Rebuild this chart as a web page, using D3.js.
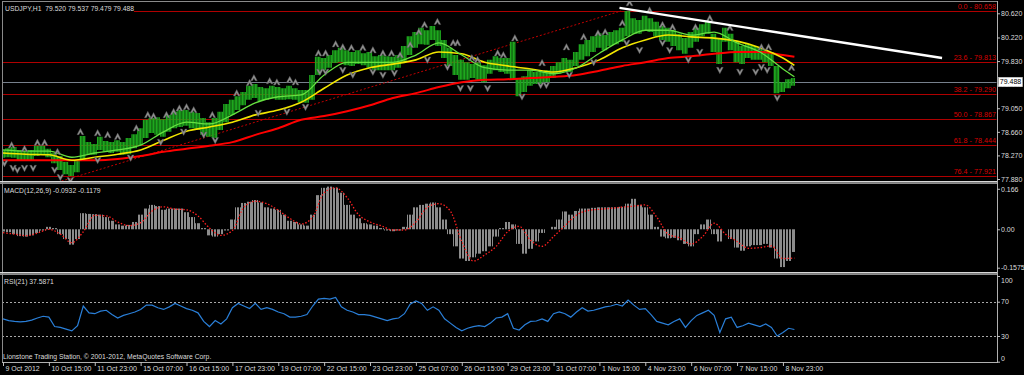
<!DOCTYPE html>
<html>
<head>
<meta charset="utf-8">
<script src="https://cdn.jsdelivr.net/npm/d3@7"></script>
<style>
  body { margin: 0; background: #000; }
  svg { display: block; }
</style>
</head>
<body>
<svg id="chart" width="1024" height="375"></svg>
<script>
// ---- data ----
const symbolTitle = "USDJPY,H1  79.520 79.537 79.479 79.488";
const lastPrice = 79.488;
const lastBar = 552;

// bottom axis: one label every 32 hourly bars
const timeBars = [0, 32, 64, 96, 128, 160, 192, 224, 256, 288, 320, 352, 384, 416, 448, 480, 512, 544];
const timeLabels = ["9 Oct 2012", "10 Oct 15:00", "11 Oct 23:00", "15 Oct 07:00", "16 Oct 15:00",
  "17 Oct 23:00", "19 Oct 07:00", "22 Oct 15:00", "23 Oct 23:00", "25 Oct 07:00", "26 Oct 15:00",
  "29 Oct 23:00", "31 Oct 07:00", "1 Nov 15:00", "4 Nov 23:00", "6 Nov 07:00", "7 Nov 15:00", "8 Nov 23:00"];

// price range of each 4-bar block
const priceHigh = [78.36, 78.39, 78.41, 78.36, 78.34, 78.36, 78.43, 78.43, 78.38, 78.31,
  78.26, 78.16, 78.11, 78.19, 78.59, 78.49, 78.46, 78.58, 78.51, 78.49,
  78.52, 78.49, 78.56, 78.62, 78.72, 78.86, 78.89, 78.90, 78.87, 78.94,
  78.99, 79.02, 79.02, 78.99, 78.97, 78.89, 78.82, 78.89, 78.99, 79.12,
  79.19, 79.25, 79.32, 79.42, 79.45, 79.40, 79.38, 79.42, 79.40, 79.38,
  79.42, 79.38, 79.35, 79.35, 79.60, 79.90, 79.88, 79.93, 80.01, 80.05,
  80.01, 79.98, 80.01, 79.96, 79.98, 79.91, 79.93, 79.91, 79.90, 79.93,
  80.08, 80.24, 80.31, 80.38, 80.34, 80.41, 80.34, 80.18, 80.05, 79.93,
  79.85, 79.81, 79.78, 79.81, 79.76, 79.85, 79.91, 79.88, 79.88, 80.15,
  79.55, 79.58, 79.68, 79.65, 79.65, 79.68, 79.75, 79.81, 79.88, 79.85,
  79.98, 80.11, 80.18, 80.24, 80.29, 80.26, 80.31, 80.34, 80.38, 80.66,
  80.54, 80.51, 80.58, 80.54, 80.48, 80.41, 80.38, 80.34, 80.28, 80.21,
  80.31, 80.38, 80.44, 80.48, 80.28, 80.21, 80.38, 80.28, 80.15, 80.08,
  80.11, 80.08, 80.05, 80.01, 79.98, 79.75, 79.48, 79.53, 79.55];
const priceLow = [78.23, 78.24, 78.23, 78.18, 78.19, 78.18, 78.26, 78.28, 78.24, 78.14,
  78.03, 77.96, 77.93, 77.99, 78.19, 78.29, 78.28, 78.36, 78.33, 78.31,
  78.33, 78.28, 78.29, 78.39, 78.44, 78.56, 78.64, 78.61, 78.58, 78.66,
  78.72, 78.74, 78.76, 78.72, 78.69, 78.61, 78.58, 78.56, 78.69, 78.82,
  78.94, 79.02, 79.10, 79.19, 79.22, 79.17, 79.19, 79.22, 79.19, 79.19,
  79.20, 79.19, 79.15, 79.14, 79.19, 79.60, 79.68, 79.72, 79.80, 79.81,
  79.76, 79.75, 79.78, 79.76, 79.72, 79.68, 79.68, 79.68, 79.68, 79.72,
  79.81, 79.93, 80.05, 80.11, 80.10, 80.18, 80.08, 79.88, 79.75, 79.60,
  79.52, 79.52, 79.55, 79.52, 79.48, 79.62, 79.68, 79.65, 79.62, 79.52,
  79.25, 79.32, 79.42, 79.45, 79.45, 79.48, 79.55, 79.62, 79.65, 79.65,
  79.75, 79.85, 79.91, 79.98, 80.05, 80.01, 80.08, 80.11, 80.15, 80.24,
  80.28, 80.28, 80.34, 80.31, 80.24, 80.18, 80.15, 80.08, 80.01, 79.95,
  80.05, 80.15, 80.24, 80.28, 79.98, 79.78, 80.15, 80.01, 79.81, 79.78,
  79.88, 79.85, 79.85, 79.81, 79.75, 79.30, 79.32, 79.38, 79.42];

// moving averages, one reading every 16 bars plus the last bar
const maBars = d3.range(0, 545, 16).concat([lastBar]);
const maFast = [78.36, 78.34, 78.34, 78.24, 78.31, 78.36, 78.44, 78.66, 78.82, 78.79,
  78.94, 79.14, 79.24, 79.27, 79.60, 79.81, 79.81, 79.81, 79.93, 80.13,
  79.93, 79.72, 79.68, 79.68, 79.62, 79.72, 79.96, 80.18, 80.34, 80.34,
  80.26, 80.31, 80.13, 79.98, 79.70, 79.57];
const maMid = [78.31, 78.29, 78.28, 78.19, 78.24, 78.29, 78.36, 78.52, 78.67, 78.74,
  78.82, 78.94, 79.02, 79.15, 79.38, 79.60, 79.72, 79.78, 79.85, 79.98,
  79.95, 79.81, 79.75, 79.70, 79.65, 79.72, 79.85, 80.05, 80.18, 80.26,
  80.23, 80.21, 80.16, 80.05, 79.88, 79.76];
const maSlow = [78.19, 78.19, 78.19, 78.19, 78.19, 78.21, 78.26, 78.33, 78.38, 78.43,
  78.49, 78.61, 78.72, 78.86, 78.92, 79.00, 79.10, 79.22, 79.30, 79.40,
  79.48, 79.52, 79.53, 79.55, 79.57, 79.60, 79.67, 79.75, 79.81, 79.88,
  79.91, 79.95, 79.98, 79.98, 79.93, 79.90];

// fractal arrows
const fracUpBars = [6, 15, 24, 29, 38, 54, 66, 73, 80, 93, 101, 105, 114, 119, 123, 128, 133, 146, 163, 172,
  175, 186, 191, 200, 204, 220, 225, 232, 237, 243, 251, 258, 265, 271, 277, 284, 290, 294, 303, 314,
  317, 327, 331, 345, 349, 357, 376, 393, 405, 415, 420, 432, 437, 451, 460, 467, 483, 493, 507, 529, 534, 550];
const fracUpPrices = [78.44, 78.38, 78.48, 78.48, 78.33, 78.66, 78.64, 78.61, 78.58, 78.72,
  78.94, 78.92, 78.94, 78.99, 79.05, 79.07, 79.02, 78.94, 79.30, 79.47,
  79.55, 79.50, 79.48, 79.52, 79.48, 79.96, 79.96, 80.11, 80.06, 80.05,
  80.05, 80.01, 79.96, 79.96, 79.93, 80.10, 80.31, 80.43, 80.48, 80.13,
  80.13, 79.88, 79.85, 79.96, 79.93, 80.21, 79.80, 80.06, 80.23, 80.29,
  80.31, 80.46, 80.79, 80.67, 80.43, 80.39, 80.39, 80.54, 80.38, 80.06, 80.06, 79.72];
const fracDownBars = [1, 7, 10, 15, 21, 36, 40, 47, 66, 89, 110, 126, 140, 148, 178, 198, 211, 221, 225, 237,
  244, 258, 265, 273, 296, 310, 319, 326, 338, 362, 375, 379, 395, 412, 435, 444, 460, 465, 478, 486,
  500, 514, 525, 529, 533, 540];
const fracDownPrices = [78.14, 78.06, 78.03, 78.06, 78.06, 78.03, 77.91, 77.86, 78.19, 78.23,
  78.49, 78.66, 78.61, 78.52, 78.97, 78.99, 79.07, 79.65, 79.65, 79.68,
  79.60, 79.65, 79.60, 79.63, 79.85, 79.73, 79.38, 79.38, 79.38, 79.24,
  79.43, 79.43, 79.60, 79.81, 80.13, 80.01, 80.13, 80.01, 79.85, 79.98,
  79.68, 79.65, 79.65, 79.73, 79.68, 79.22];

// Fibonacci retracement and trend line objects
const fibHighPrice = 80.658, fibLowPrice = 77.076;
const fibHighBar = 431, fibLowBar = -66;
const fibLevels = [0.0, 23.6, 38.2, 50.0, 61.8, 76.4];
const trendBars = [430, 655];
const trendPrices = [80.71, 79.88];

// MACD(12,26,9): histogram every 4 bars, signal every 8 bars
const macdHist = [-0.009, -0.012, -0.02, -0.028, -0.03, -0.025, -0.015, -0.005, 0.01, 0.005,
  -0.02, -0.04, -0.063, -0.04, 0.066, 0.063, 0.062, 0.06, 0.05, 0.035,
  0.02, 0.015, 0.018, 0.03, 0.06, 0.085, 0.1, 0.095, 0.08, 0.085,
  0.085, 0.085, 0.07, 0.05, 0.025, 0.005, -0.025, -0.03, -0.02, -0.005,
  0.04, 0.09, 0.108, 0.113, 0.12, 0.11, 0.09, 0.085, 0.08, 0.06,
  0.035, 0.03, 0.02, 0.015, 0.06, 0.14, 0.17, 0.175, 0.17, 0.15,
  0.1, 0.06, 0.045, 0.025, 0.02, 0.015, 0.005, -0.005, -0.008, -0.005,
  0.01, 0.06, 0.09, 0.1, 0.105, 0.11, 0.09, 0.04, -0.02, -0.07,
  -0.12, -0.13, -0.115, -0.1, -0.09, -0.07, -0.03, 0.005, 0.03, 0.02,
  -0.06, -0.1, -0.08, -0.05, -0.015, 0.0, 0.01, 0.04, 0.073, 0.06,
  0.075, 0.085, 0.085, 0.088, 0.09, 0.09, 0.09, 0.09, 0.092, 0.105,
  0.125, 0.1, 0.09, 0.06, 0.01, -0.03, -0.037, -0.035, -0.045, -0.06,
  -0.07, -0.02, 0.02, 0.04, -0.02, -0.05, 0.0, -0.04, -0.075, -0.088,
  -0.07, -0.065, -0.065, -0.06, -0.075, -0.12, -0.155, -0.13, -0.093];
const macdSignal = [-0.014, -0.02, -0.026, -0.016, 0.0, -0.02, -0.055, -0.01, 0.057, 0.055,
  0.03, 0.015, 0.027, 0.075, 0.092, 0.083, 0.08, 0.055, 0.005, -0.025,
  -0.005, 0.09, 0.115, 0.105, 0.078, 0.045, 0.022, 0.05, 0.15, 0.17,
  0.13, 0.06, 0.03, 0.014, -0.003, -0.003, 0.03, 0.09, 0.105, 0.075,
  -0.05, -0.13, -0.105, -0.07, -0.01, 0.012, -0.045, -0.07, -0.03, 0.015,
  0.058, 0.077, 0.082, 0.086, 0.091, 0.095, 0.1, 0.05, -0.02, -0.035,
  -0.06, -0.03, 0.025, -0.02, -0.05, -0.078, -0.075, -0.068, -0.12, -0.118];

// RSI(21), every 4 bars
const rsiValues = [50, 48, 47, 46.5, 47, 48.5, 51, 53, 52, 41,
  40, 38, 36, 42, 65, 57, 56, 59, 60, 55,
  51, 54, 56, 58, 61, 66, 66, 63, 61, 64,
  68, 65, 62, 60, 57, 47, 41, 48, 44, 50,
  63, 68, 65, 62, 68, 61, 63, 61, 58, 56,
  52, 52, 53, 55, 65, 73, 74, 73, 75, 64,
  60, 58, 55, 55, 54, 52, 50, 48, 50, 51,
  56, 67, 71, 68, 60, 64, 60, 50, 45, 40,
  36, 39, 41, 42, 41, 45, 51, 52, 56, 39,
  37, 43, 47, 47.5, 50, 47, 56, 58, 56, 52,
  58, 63, 59, 60, 62, 64, 65, 67, 65, 72,
  66, 61, 62, 55, 47, 45, 43, 47, 50, 40,
  48, 54, 57, 60, 54, 34, 50, 52, 40, 42,
  45, 43, 41, 44, 40, 30, 34, 39, 37.59];

// axis tick values
const priceTicks = [80.620, 80.220, 79.830, 79.440, 79.050, 78.660, 78.270, 77.880];
const macdTicks = [0.166, 0, -0.1575];
const macdTickLabels = ["0.166", "0.00", "-0.1575"];
const rsiTicks = [100, 70, 30, 0];
const rsiLevels = [70, 30];

// ---- layout ----
const FONT = "'Liberation Sans', Arial, sans-serif";
const LEFT = 2, RIGHT = 997;
const mainP = { top: 1.5, bottom: 181 };
const macdP = { top: 184, bottom: 272 };
const rsiP = { top: 275, bottom: 362 };

const svg = d3.select("#chart").attr("font-family", FONT);
svg.append("rect").attr("width", 1024).attr("height", 375).attr("fill", "#000");

const x = d3.scaleLinear().domain([0, lastBar]).range([3, 794.4]);
const yP = d3.scaleLinear().domain([77.88, 80.62]).range([179, 13.3]);
const yM = d3.scaleLinear().domain([-0.1575, 0.166]).range([267.7, 188.8]);
const yR = d3.scaleLinear().domain([0, 100]).range([361.7, 276]);

const defs = svg.append("defs");
[["clipMain", mainP], ["clipMacd", macdP], ["clipRsi", rsiP]].forEach(([id, p]) => {
  defs.append("clipPath").attr("id", id).append("rect")
    .attr("x", LEFT + 0.5).attr("y", p.top + 0.5)
    .attr("width", RIGHT - LEFT - 1).attr("height", p.bottom - p.top - 0.5);
});

// ---- main panel ----
const main = svg.append("g").attr("clip-path", "url(#clipMain)");

// fib levels
const fibRange = fibHighPrice - fibLowPrice;
const fibData = fibLevels.map(l => ({ level: l, price: fibHighPrice - l / 100 * fibRange }));
main.selectAll(".fib").data(fibData).join("line")
  .attr("x1", LEFT).attr("x2", RIGHT)
  .attr("y1", d => Math.round(yP(d.price)) + 0.5).attr("y2", d => Math.round(yP(d.price)) + 0.5)
  .attr("stroke", "#b00000").attr("stroke-width", 1.2);

// current price line
main.append("line")
  .attr("x1", LEFT).attr("x2", RIGHT)
  .attr("y1", Math.round(yP(lastPrice)) + 0.5).attr("y2", Math.round(yP(lastPrice)) + 0.5)
  .attr("stroke", "#77808c").attr("stroke-width", 1);

// fib labels
main.selectAll(".fibLabel").data(fibData).join("text")
  .attr("x", RIGHT - 1).attr("y", d => yP(d.price) - 2)
  .attr("text-anchor", "end").attr("font-size", 7.2).attr("fill", "#d80000")
  .text(d => d.level.toFixed(1) + " - " + d.price.toFixed(3));

// fib diagonal (dotted)
main.append("line")
  .attr("x1", x(fibLowBar)).attr("y1", yP(fibLowPrice))
  .attr("x2", x(fibHighBar)).attr("y2", yP(fibHighPrice))
  .attr("stroke", "#c00000").attr("stroke-width", 1).attr("stroke-dasharray", "2 2");

// price bars, one line per hourly bar, using the range of its 4-bar block
const bars = [];
priceHigh.forEach((h, k) => {
  for (let j = -2; j < 2; j++) {
    const b = k * 4 + j;
    if (b < 0 || b > lastBar) continue;
    bars.push({ b, hi: h, lo: priceLow[k] });
  }
});
main.append("g").selectAll("line").data(bars).join("line")
  .attr("x1", d => x(d.b)).attr("x2", d => x(d.b))
  .attr("y1", d => yP(d.hi)).attr("y2", d => yP(d.lo))
  .attr("stroke", "#1ea81e").attr("stroke-width", 1.3);

// moving averages
const maLine = d3.line().x((d, i) => x(maBars[i])).y(d => yP(d)).curve(d3.curveMonotoneX);
main.append("path").datum(maSlow).attr("d", maLine)
  .attr("fill", "none").attr("stroke", "#ff0000").attr("stroke-width", 2);
main.append("path").datum(maMid).attr("d", maLine)
  .attr("fill", "none").attr("stroke", "#f2e600").attr("stroke-width", 1.6);
main.append("path").datum(maFast).attr("d", maLine)
  .attr("fill", "none").attr("stroke", "#66e040").attr("stroke-width", 1.3);

// fractals
const upArrow = "M0,-3.6L3.4,2.8L1.5,2.8L0,0.2L-1.5,2.8L-3.4,2.8Z";
const downArrow = "M0,3.6L3.4,-2.8L1.5,-2.8L0,-0.2L-1.5,-2.8L-3.4,-2.8Z";
main.append("g").selectAll("path").data(fracUpBars).join("path")
  .attr("transform", (d, i) => `translate(${x(d)},${yP(fracUpPrices[i])})`)
  .attr("d", upArrow).attr("fill", "#8e8e8e").attr("stroke", "#555").attr("stroke-width", 0.4);
main.append("g").selectAll("path").data(fracDownBars).join("path")
  .attr("transform", (d, i) => `translate(${x(d)},${yP(fracDownPrices[i])})`)
  .attr("d", downArrow).attr("fill", "#8e8e8e").attr("stroke", "#555").attr("stroke-width", 0.4);

// trend line
main.append("line")
  .attr("x1", x(trendBars[0])).attr("y1", yP(trendPrices[0]))
  .attr("x2", x(trendBars[1])).attr("y2", yP(trendPrices[1]))
  .attr("stroke", "#ffffff").attr("stroke-width", 2.4);

// title with its black box
svg.append("rect").attr("x", 3).attr("y", 3).attr("width", 131).attr("height", 10).attr("fill", "#000");
svg.append("text").attr("x", 5).attr("y", 10.5).attr("font-size", 6.8).attr("fill", "#dcdcdc")
  .attr("xml:space", "preserve").text(symbolTitle);

// ---- MACD panel ----
const macd = svg.append("g").attr("clip-path", "url(#clipMacd)");
const histBars = [];
macdHist.forEach((v, k) => {
  for (let j = -2; j < 2; j++) {
    const b = k * 4 + j;
    if (b < 0 || b > lastBar) continue;
    histBars.push({ b, v });
  }
});
macd.append("g").selectAll("line").data(histBars).join("line")
  .attr("x1", d => Math.round(x(d.b)) + 0.5).attr("x2", d => Math.round(x(d.b)) + 0.5)
  .attr("y1", yM(0)).attr("y2", d => yM(d.v))
  .attr("stroke", "#8c8c8c").attr("stroke-width", 1);
macd.append("path").datum(macdSignal)
  .attr("d", d3.line().x((d, i) => x(i * 8)).y(d => yM(d)).curve(d3.curveMonotoneX))
  .attr("fill", "none").attr("stroke", "#ff2020").attr("stroke-width", 1.3)
  .attr("stroke-dasharray", "1.5 1.8");
svg.append("text").attr("x", 4).attr("y", 192.5).attr("font-size", 6.8).attr("fill", "#dcdcdc")
  .text("MACD(12,26,9) -0.0932 -0.1179");

// ---- RSI panel ----
const rsi = svg.append("g").attr("clip-path", "url(#clipRsi)");
rsi.selectAll(".lvl").data(rsiLevels).join("line")
  .attr("x1", LEFT).attr("x2", RIGHT)
  .attr("y1", d => Math.round(yR(d)) + 0.5).attr("y2", d => Math.round(yR(d)) + 0.5)
  .attr("stroke", "#a8a8a8").attr("stroke-width", 1).attr("stroke-dasharray", "2 2");
rsi.append("path").datum(rsiValues)
  .attr("d", d3.line().x((d, i) => x(i * 4)).y(d => yR(d)))
  .attr("fill", "none").attr("stroke", "#2a7fd8").attr("stroke-width", 1.2);
svg.append("text").attr("x", 4).attr("y", 284).attr("font-size", 6.8).attr("fill", "#dcdcdc")
  .text("RSI(21) 37.5871");
svg.append("text").attr("x", 3).attr("y", 359).attr("font-size", 6.8).attr("fill", "#dcdcdc")
  .text("Lionstone Trading Station, \u00a9 2001-2012, MetaQuotes Software Corp.");

// ---- frames and separators ----
svg.append("line").attr("x1", LEFT).attr("x2", RIGHT).attr("y1", 1.5).attr("y2", 1.5)
  .attr("stroke", "#8a8a8a");
svg.append("line").attr("x1", LEFT + 0.5).attr("x2", LEFT + 0.5).attr("y1", 1.5).attr("y2", rsiP.bottom)
  .attr("stroke", "#8a8a8a");
[mainP.bottom, macdP.bottom].forEach(yy => {
  svg.append("rect").attr("x", 0).attr("y", yy).attr("width", RIGHT + 1).attr("height", 1.5).attr("fill", "#d8d8d8");
  svg.append("rect").attr("x", 0).attr("y", yy + 1.5).attr("width", RIGHT + 1).attr("height", 1.5).attr("fill", "#8c8c8c");
});
svg.append("line").attr("x1", LEFT).attr("x2", RIGHT).attr("y1", rsiP.bottom + 0.5).attr("y2", rsiP.bottom + 0.5)
  .attr("stroke", "#b0b0b0");
svg.append("line").attr("x1", RIGHT + 0.5).attr("x2", RIGHT + 0.5).attr("y1", 1).attr("y2", rsiP.bottom + 1)
  .attr("stroke", "#b0b0b0");

// ---- axes ----
function styleAxis(g) {
  g.attr("font-family", FONT).attr("font-size", 7);
  g.select(".domain").remove();
  g.selectAll(".tick line").attr("stroke", "#c0c0c0");
  g.selectAll(".tick text").attr("fill", "#dcdcdc");
}

svg.append("g").attr("transform", `translate(${RIGHT},0)`)
  .call(d3.axisRight(yP).tickValues(priceTicks).tickSize(3).tickPadding(1).tickFormat(d3.format(".3f")))
  .call(styleAxis);

svg.append("g").attr("transform", `translate(${RIGHT},0)`)
  .call(d3.axisRight(yM).tickValues(macdTicks).tickSize(3).tickPadding(1)
    .tickFormat((d, i) => macdTickLabels[i]))
  .call(styleAxis);

const rsiAxis = svg.append("g").attr("transform", `translate(${RIGHT},0)`)
  .call(d3.axisRight(yR).tickValues(rsiTicks).tickSize(3).tickPadding(1))
  .call(styleAxis);
rsiAxis.selectAll(".tick text").attr("y", d => {
  const yy = yR(d);
  return Math.min(Math.max(yy, rsiP.top + 5), rsiP.bottom - 4) - yy;
});

const timeAxis = svg.append("g").attr("transform", `translate(0,${rsiP.bottom})`)
  .call(d3.axisBottom(x).tickValues(timeBars).tickSize(4).tickFormat((d, i) => timeLabels[i]))
  .call(styleAxis);
timeAxis.selectAll(".tick text").attr("text-anchor", "start").attr("x", 2).attr("y", 4);

// last price tag (covers most of the 79.440 label, as in MetaTrader)
svg.append("rect").attr("x", 998.5).attr("y", yP(lastPrice) - 4.5).attr("width", 24).attr("height", 9.5)
  .attr("fill", "#ffffff").attr("stroke", "#c0c0c0").attr("stroke-width", 0.5);
svg.append("text").attr("x", 1010.5).attr("y", yP(lastPrice) + 2.6).attr("text-anchor", "middle")
  .attr("font-size", 7).attr("fill", "#000").text(lastPrice.toFixed(3));
</script>
</body>
</html>
